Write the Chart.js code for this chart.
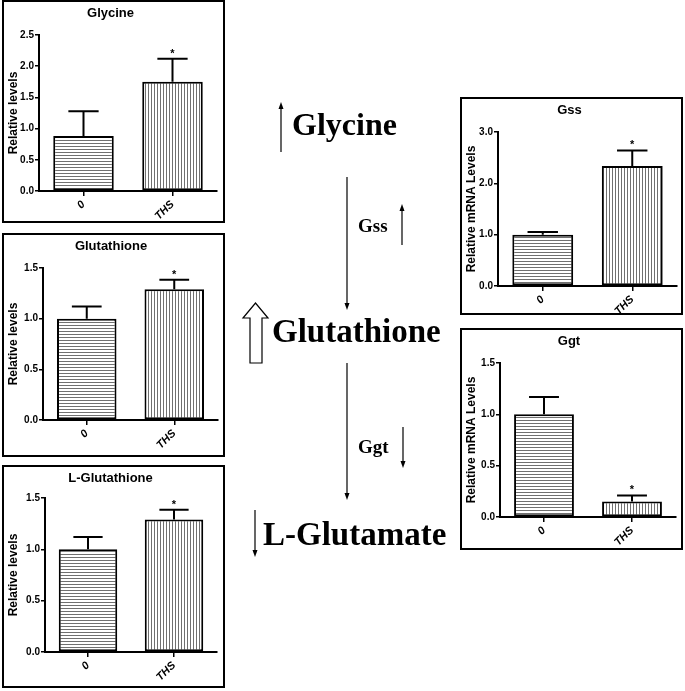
<!DOCTYPE html>
<html>
<head>
<meta charset="utf-8">
<script src="https://cdn.jsdelivr.net/npm/chart.js@4.4.1/dist/chart.umd.min.js"></script>
<style>
    body { margin: 0; background: #fff; }
    #page { position: relative; width: 685px; height: 691px; overflow: hidden; }
    .marco { position: absolute; border: 2px solid #000; box-sizing: border-box; }
    .marco canvas { position: absolute; left: 0; top: 0; }
    #diagrama { position: absolute; left: 0; top: 0; }
</style>
</head>
<body>
<div id="page">
    <div class="marco" id="m1" style="left:2px;top:0px;width:223px;height:223px"><canvas id="c1"></canvas></div>
    <div class="marco" id="m2" style="left:2px;top:233px;width:223px;height:224px"><canvas id="c2"></canvas></div>
    <div class="marco" id="m3" style="left:2px;top:465px;width:223px;height:223px"><canvas id="c3"></canvas></div>
    <div class="marco" id="m4" style="left:460px;top:97px;width:223px;height:218px"><canvas id="c4"></canvas></div>
    <div class="marco" id="m5" style="left:460px;top:328px;width:223px;height:222px"><canvas id="c5"></canvas></div>

    <svg id="diagrama" width="685" height="691" font-family="'Liberation Serif', 'Times New Roman', serif" font-weight="bold">
        <g stroke="#000" stroke-width="1.2">
            <!-- Glycine -->
            <line x1="281" y1="108" x2="281" y2="152"/>
            <!-- flecha larga 1 -->
            <line x1="347" y1="177" x2="347" y2="304"/>
            <!-- Gss -->
            <line x1="402" y1="210" x2="402" y2="245"/>
            <!-- flecha larga 2 -->
            <line x1="347" y1="363" x2="347" y2="494"/>
            <!-- Ggt -->
            <line x1="403" y1="427" x2="403" y2="462"/>
            <!-- L-Glutamate -->
            <line x1="255" y1="510" x2="255" y2="551"/>
        </g>
        <g fill="#000">
            <path d="M278.5,109 L281,102 L283.5,109 Z"/>
            <path d="M344.5,303 L347,310 L349.5,303 Z"/>
            <path d="M399.5,211 L402,204 L404.5,211 Z"/>
            <path d="M344.5,493 L347,500 L349.5,493 Z"/>
            <path d="M400.5,461 L403,468 L405.5,461 Z"/>
            <path d="M252.5,550 L255,557 L257.5,550 Z"/>
        </g>
        <path d="M250,363 L250,318 L243,318 L255.5,303 L268,318 L262,318 L262,363 Z" fill="#fff" stroke="#000" stroke-width="1.2"/>
        <text x="292" y="135" font-size="32">Glycine</text>
        <text x="358" y="232" font-size="19">Gss</text>
        <text x="272" y="342" font-size="33">Glutathione</text>
        <text x="358" y="453" font-size="19">Ggt</text>
        <text x="263" y="545" font-size="33">L-Glutamate</text>
    </svg>
</div>

<script>
// grupos y valores
const grupos = ['0', 'THS'];

const glicinaMedia = [0.88, 1.75];
const glicinaError = [0.40, 0.37];

const glutationMedia = [1.00, 1.29];
const glutationError = [0.12, 0.095];

const lGlutationMedia = [1.00, 1.29];
const lGlutationError = [0.12, 0.095];

const gssMedia = [1.00, 2.34];
const gssError = [0.05, 0.30];

const ggtMedia = [1.00, 0.15];
const ggtError = [0.17, 0.06];

const significativo = [false, true];

const fuente = '"Liberation Sans", Arial, sans-serif';

// tramas de rayas para las barras
function crearTrama(vertical) {
    const c = document.createElement('canvas');
    c.width = vertical ? 3 : 1;
    c.height = vertical ? 1 : 3;
    const g = c.getContext('2d');
    g.fillStyle = '#ffffff';
    g.fillRect(0, 0, c.width, c.height);
    g.fillStyle = '#707070';
    g.fillRect(0, 0, 1, 1);
    return g.createPattern(c, 'repeat');
}
const tramaH = crearTrama(false);
const tramaV = crearTrama(true);

// barras de error (solo la parte superior) con asterisco
const barrasError = {
    id: 'barrasError',
    afterDatasetsDraw(chart, args, opts) {
        const ctx = chart.ctx;
        const y = chart.scales.y;
        const meta = chart.getDatasetMeta(0);
        const datos = chart.data.datasets[0].data;
        ctx.save();
        ctx.strokeStyle = '#000';
        ctx.lineWidth = 2;
        meta.data.forEach((bar, i) => {
            const arriba = y.getPixelForValue(datos[i] + opts.errores[i]);
            const tope = y.getPixelForValue(datos[i]);
            const medio = bar.width / 4;
            ctx.beginPath();
            ctx.moveTo(bar.x, tope);
            ctx.lineTo(bar.x, arriba);
            ctx.moveTo(bar.x - medio, arriba);
            ctx.lineTo(bar.x + medio, arriba);
            ctx.stroke();
            if (opts.marcas[i]) {
                ctx.fillStyle = '#000';
                ctx.font = 'bold 11px ' + fuente;
                ctx.textAlign = 'center';
                ctx.fillText('*', bar.x, arriba - 2);
            }
        });
        ctx.restore();
    }
};

function panel(idMarco, idCanvas, titulo, ejeY, medias, errores, maximo, paso, area) {
    const marco = document.getElementById(idMarco);
    const cx = marco.offsetLeft + 2, cy = marco.offsetTop + 2;
    const cw = marco.offsetWidth - 4, ch = marco.offsetHeight - 4;
    const canvas = document.getElementById(idCanvas);
    canvas.width = cw;
    canvas.height = ch;

    const tituloArriba = 4;
    const tituloAlto = 13 * 1.2;

    return new Chart(canvas.getContext('2d'), {
        type: 'bar',
        data: {
            labels: grupos,
            datasets: [{
                data: medias,
                backgroundColor: [tramaH, tramaV],
                borderColor: '#000',
                borderWidth: 2,
                borderSkipped: false,
                categoryPercentage: 1,
                barPercentage: 0.68
            }]
        },
        options: {
            responsive: false,
            animation: false,
            layout: { padding: { left: 0, top: 0, bottom: 0, right: (cx + cw) - area.r } },
            plugins: {
                legend: { display: false },
                tooltip: { enabled: false },
                title: {
                    display: true,
                    text: titulo,
                    color: '#000',
                    font: { family: fuente, size: 13, weight: 'bold' },
                    padding: { top: tituloArriba, bottom: (area.t - cy) - tituloArriba - tituloAlto }
                },
                barrasError: { errores: errores, marcas: significativo }
            },
            scales: {
                x: {
                    afterFit: (s) => { s.height = (cy + ch) - area.b; },
                    grid: { display: true, drawOnChartArea: false, offset: false, color: '#000', lineWidth: 1.5, tickLength: 5 },
                    border: { display: true, color: '#000', width: 2 },
                    ticks: {
                        color: '#000',
                        minRotation: 45,
                        maxRotation: 45,
                        padding: 2,
                        font: { family: fuente, size: 11, weight: 'bold', style: 'italic' }
                    }
                },
                y: {
                    min: 0,
                    max: maximo,
                    afterFit: (s) => { s.width = area.l - cx; },
                    grid: { display: true, drawOnChartArea: false, color: '#000', lineWidth: 1.5, tickLength: 4 },
                    border: { display: true, color: '#000', width: 2 },
                    ticks: {
                        stepSize: paso,
                        color: '#000',
                        padding: 1,
                        callback: (v) => v.toFixed(1),
                        font: { family: fuente, size: 10, weight: 'bold' }
                    },
                    title: {
                        display: true,
                        text: ejeY,
                        color: '#000',
                        padding: { top: 2, bottom: 2 },
                        font: { family: fuente, size: 12, weight: 'bold' }
                    }
                }
            }
        },
        plugins: [barrasError]
    });
}

panel('m1', 'c1', 'Glycine', 'Relative levels', glicinaMedia, glicinaError, 2.5, 0.5, { l: 39, t: 35, r: 217, b: 191 });
panel('m2', 'c2', 'Glutathione', 'Relative levels', glutationMedia, glutationError, 1.5, 0.5, { l: 43, t: 268, r: 218, b: 420 });
panel('m3', 'c3', 'L-Glutathione', 'Relative levels', lGlutationMedia, lGlutationError, 1.5, 0.5, { l: 45, t: 498, r: 217, b: 652 });
panel('m4', 'c4', 'Gss', 'Relative mRNA Levels', gssMedia, gssError, 3.0, 1.0, { l: 498, t: 132, r: 677, b: 286 });
panel('m5', 'c5', 'Ggt', 'Relative mRNA Levels', ggtMedia, ggtError, 1.5, 0.5, { l: 500, t: 363, r: 676, b: 517 });
</script>
</body>
</html>
